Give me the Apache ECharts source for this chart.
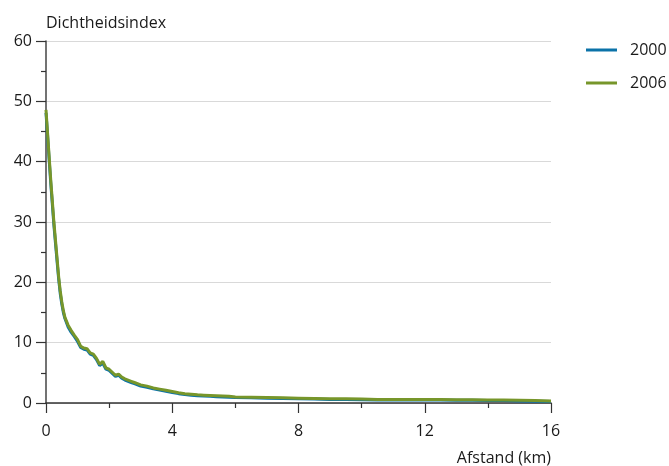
<!DOCTYPE html>
<html>
<head>
<meta charset="utf-8">
<script src="https://cdn.jsdelivr.net/npm/echarts@6/dist/echarts.min.js"></script>
<style>
  html, body { margin: 0; padding: 0; background: #fff; }
  #chart { width: 669px; height: 466px; }
</style>
</head>
<body>
<div id="chart"></div>
<script>
// Distance from the centre (km)
const afstand = [
  0, 0.05, 0.1, 0.15, 0.2, 0.25, 0.3, 0.35, 0.4, 0.45, 0.5, 0.55, 0.6, 0.7, 0.8, 0.9,
  1.0, 1.1, 1.2, 1.3, 1.4, 1.5, 1.6, 1.7, 1.8, 1.9, 2.0, 2.1, 2.2, 2.3, 2.4, 2.5,
  2.6, 2.7, 2.8, 2.9, 3.0, 3.2, 3.4, 3.6, 3.8, 4.0, 4.2, 4.4, 4.6, 4.8, 5.0, 5.2,
  5.4, 5.6, 5.8, 6.0, 6.5, 7.0, 7.5, 8.0, 8.5, 9.0, 9.5, 10.0, 10.5, 11.0, 11.5,
  12.0, 12.5, 13.0, 13.5, 14.0, 14.5, 15.0, 15.5, 16.0
];

// Density index, 2000
const index2000 = [
  48.1, 44.3, 40.3, 36.5, 33.0, 29.5, 26.5, 23.5, 20.6, 18.2, 16.4, 15.0, 14.0, 12.6, 11.7, 11.0,
  10.2, 9.2, 8.9, 8.8, 8.1, 7.9, 7.2, 6.2, 6.6, 5.6, 5.4, 4.9, 4.4, 4.6, 4.1, 3.8,
  3.6, 3.4, 3.2, 3.0, 2.8, 2.6, 2.35, 2.15, 1.95, 1.75, 1.55, 1.4, 1.3, 1.2, 1.15, 1.1,
  1.05, 1.0, 0.95, 0.9, 0.85, 0.8, 0.75, 0.7, 0.65, 0.6, 0.6, 0.55, 0.5, 0.5, 0.5,
  0.5, 0.5, 0.45, 0.45, 0.4, 0.4, 0.35, 0.3, 0.25
];

// Density index, 2006
const index2006 = [
  48.6, 44.7, 40.8, 37.0, 33.5, 30.0, 27.0, 24.0, 21.0, 18.6, 16.8, 15.3, 14.2, 12.9, 12.0, 11.2,
  10.5, 9.4, 9.1, 9.0, 8.3, 8.1, 7.4, 6.4, 6.9, 5.8, 5.6, 5.1, 4.6, 4.8, 4.3, 4.0,
  3.8, 3.6, 3.4, 3.2, 3.0, 2.8, 2.5, 2.3, 2.1, 1.9, 1.7, 1.55, 1.45, 1.35, 1.3, 1.25,
  1.2, 1.15, 1.1, 1.0, 0.95, 0.9, 0.85, 0.8, 0.75, 0.7, 0.7, 0.65, 0.6, 0.6, 0.6,
  0.6, 0.6, 0.55, 0.55, 0.5, 0.5, 0.45, 0.4, 0.35
];

const seriesNames = ['2000', '2006'];
const seriesColors = ['#0b72a8', '#77962a'];

const FONT = 'Open Sans';
const FS = 16;
const pair = (ys) => afstand.map((x, i) => [x, ys[i]]);

const chart = echarts.init(document.getElementById('chart'), null, { renderer: 'canvas' });

chart.setOption({
  animation: false,
  backgroundColor: '#ffffff',
  textStyle: { fontFamily: FONT, color: '#1a1a1a' },
  grid: { left: 46, right: 118, top: 41, bottom: 63, containLabel: false },
  legend: {
    data: seriesNames,
    orient: 'vertical',
    left: 581,
    top: 37,
    itemGap: 17,
    itemWidth: 31,
    itemHeight: 14,
    icon: 'path://M0,6 L31,6 L31,9 L0,9 Z',
    textStyle: { fontFamily: FONT, fontSize: 16, color: '#1a1a1a', padding: [0, 0, 0, 8] },
    selectedMode: false
  },
  xAxis: {
    type: 'value',
    min: 0,
    max: 16,
    interval: 4,
    name: 'Afstand (km)',
    nameLocation: 'end',
    nameGap: 0,
    nameTextStyle: {
      fontFamily: FONT, fontSize: FS, color: '#1a1a1a',
      align: 'right', verticalAlign: 'top', padding: [47, 0, 0, 0]
    },
    axisLine: { show: true, lineStyle: { color: '#333', width: 1.5 } },
    axisTick: { show: true, length: 10, lineStyle: { color: '#333', width: 1.2 } },
    minorTick: { show: true, splitNumber: 2, length: 5, lineStyle: { color: '#333', width: 1.2 } },
    axisLabel: { fontFamily: FONT, fontSize: FS, color: '#1a1a1a', margin: 20 },
    splitLine: { show: false }
  },
  yAxis: {
    type: 'value',
    min: 0,
    max: 60,
    interval: 10,
    name: 'Dichtheidsindex',
    nameLocation: 'end',
    nameGap: 10,
    nameTextStyle: { fontFamily: FONT, fontSize: FS, color: '#1a1a1a', align: 'left' },
    axisLine: { show: true, lineStyle: { color: '#444', width: 1.5 } },
    axisTick: { show: true, length: 10, lineStyle: { color: '#333', width: 1.2 } },
    minorTick: { show: true, splitNumber: 2, length: 5, lineStyle: { color: '#333', width: 1.2 } },
    axisLabel: { fontFamily: FONT, fontSize: FS, color: '#1a1a1a', margin: 14 },
    splitLine: { show: true, lineStyle: { color: '#d9d9d9', width: 1 } }
  },
  series: [
    {
      name: seriesNames[0],
      type: 'line',
      data: pair(index2000),
      showSymbol: false,
      symbol: 'none',
      lineStyle: { color: seriesColors[0], width: 3 },
      itemStyle: { color: seriesColors[0] },
      z: 2
    },
    {
      name: seriesNames[1],
      type: 'line',
      data: pair(index2006),
      showSymbol: false,
      symbol: 'none',
      lineStyle: { color: seriesColors[1], width: 3 },
      itemStyle: { color: seriesColors[1] },
      z: 3
    }
  ]
});
</script>
</body>
</html>
